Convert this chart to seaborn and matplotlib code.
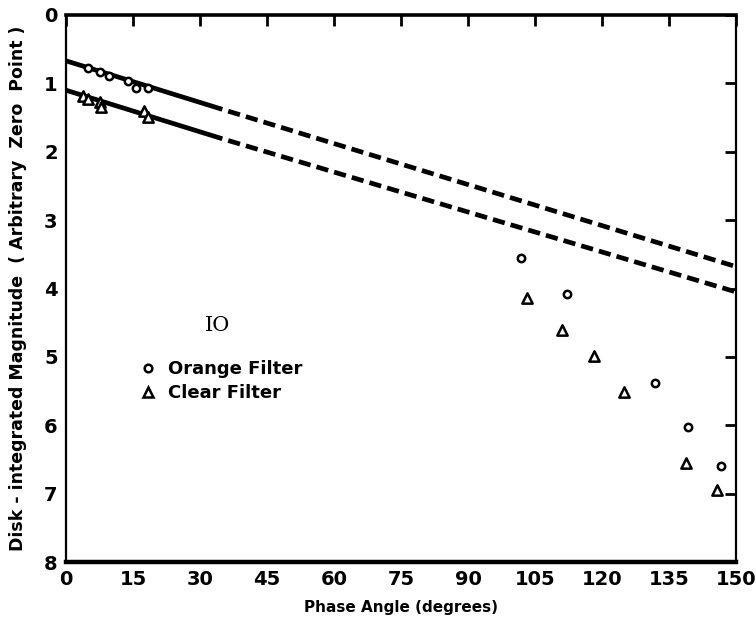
import matplotlib
matplotlib.use("Agg")
import matplotlib.pyplot as plt
from matplotlib.lines import Line2D
import seaborn as sns
import pandas as pd

# Io disk-integrated magnitude vs. phase angle
orange_phase = [4.9, 7.5, 9.7, 13.8, 15.7, 18.3, 101.8, 112.1, 131.9, 139.3, 146.6]
orange_mag = [0.78, 0.83, 0.89, 0.96, 1.07, 1.07, 3.55, 4.08, 5.38, 6.02, 6.59]

clear_phase = [3.7, 4.9, 7.5, 7.8, 17.5, 18.3, 103.1, 111.1, 118.1, 125.0, 138.7, 145.8]
clear_mag = [1.19, 1.23, 1.27, 1.34, 1.41, 1.49, 4.14, 4.60, 4.99, 5.52, 6.55, 6.95]

# Linear phase-law fits: solid over the observed range, dashed as extrapolation
fit_phase = [0, 35, 150]
orange_fit = [0.67, 1.38, 3.68]
clear_fit = [1.10, 1.81, 4.05]

x_ticks = [0, 15, 30, 45, 60, 75, 90, 105, 120, 135, 150]
x_ticklabels = ["0", "15", "30", "45", "60", "75", "90", "105", "120", "135", "150"]
y_ticks = [0, 1, 2, 3, 4, 5, 6, 7, 8]

sns.set_theme(style="white")
plt.rcParams["font.family"] = ["DejaVu Sans"]
plt.rcParams["text.color"] = "black"
plt.rcParams["axes.labelcolor"] = "black"

fig = plt.figure(figsize=(7.56, 6.22), dpi=100)
ax = fig.add_axes([66 / 756, 1 - 562 / 622, 670 / 756, 547 / 622])

ink = "black"
for fit in (orange_fit, clear_fit):
    solid = pd.DataFrame({"phase": fit_phase[:2], "mag": fit[:2]})
    dashed = pd.DataFrame({"phase": fit_phase[1:], "mag": fit[1:]})
    sns.lineplot(data=solid, x="phase", y="mag", ax=ax, color=ink, lw=3.4,
                 solid_capstyle="butt")
    sns.lineplot(data=dashed, x="phase", y="mag", ax=ax, color=ink, lw=3.4,
                 dashes=False, linestyle=(2.6, (2.6, 1.3)))

sns.scatterplot(x=orange_phase, y=orange_mag, ax=ax, marker="o", s=28,
                facecolor="white", edgecolor=ink, linewidth=1.8, zorder=5)
sns.scatterplot(x=clear_phase, y=clear_mag, ax=ax, marker="^", s=55,
                facecolor="white", edgecolor=ink, linewidth=1.8, zorder=5)

ax.set_xlim(0, 150)
ax.set_ylim(8, 0)
ax.set_xticks(x_ticks)
ax.set_xticklabels(x_ticklabels)
ax.set_yticks(y_ticks)
ax.tick_params(axis="both", direction="in", length=8, width=2, colors=ink,
               labelsize=14, pad=6, top=True, right=True)
for lab in ax.get_xticklabels() + ax.get_yticklabels():
    lab.set_fontweight("bold")

for side, w in {"bottom": 3.2, "top": 2.6, "left": 1.6, "right": 1.6}.items():
    ax.spines[side].set_visible(True)
    ax.spines[side].set_color(ink)
    ax.spines[side].set_linewidth(w)

ax.set_xlabel("Phase Angle (degrees)", fontsize=11, fontweight="bold", labelpad=8)
ax.set_ylabel("Disk - integrated Magnitude  ( Arbitrary  Zero  Point )",
              fontsize=12.5, fontweight="bold", labelpad=12)

ax.text(0.2254, 0.433, "IO", transform=ax.transAxes, fontsize=15,
        family="DejaVu Serif", ha="center", va="center")

handles = [
    Line2D([], [], linestyle="none", marker="o", markersize=5.5,
           markerfacecolor="white", markeredgecolor=ink, markeredgewidth=1.8,
           label="Orange Filter"),
    Line2D([], [], linestyle="none", marker="^", markersize=7.5,
           markerfacecolor="white", markeredgecolor=ink, markeredgewidth=1.8,
           label="Clear Filter"),
]
leg = ax.legend(handles=handles, loc="upper left", bbox_to_anchor=(0.095, 0.385),
                frameon=False, fontsize=13, handlelength=1.0, handletextpad=0.6,
                labelspacing=0.3, borderpad=0)
for t in leg.get_texts():
    t.set_fontweight("bold")
    t.set_color(ink)

fig.savefig("out.png", dpi=100, facecolor="white")
